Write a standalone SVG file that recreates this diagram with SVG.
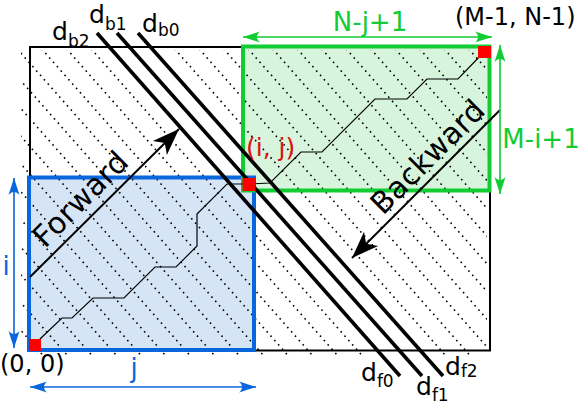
<svg xmlns="http://www.w3.org/2000/svg" width="581" height="404" viewBox="0 0 581 404">
<style>
text{font-family:"DejaVu Sans","Liberation Sans",sans-serif;}
.lbl{font-size:24px;fill:#000;}
.big{font-size:30px;fill:#000;}
.dl{font-size:25px;fill:#000;}
.sub{font-size:17px;}
.blue{fill:#0a66dd;font-size:26px;}
.green{fill:#11cc33;font-size:26px;}
.red{fill:#e01010;font-size:25px;}
.dots{fill:none;stroke:#000;stroke-width:1.6;stroke-dasharray:1.6 4.2;}
.solid{fill:none;stroke:#000;stroke-width:3.6;}
.stair{fill:none;stroke:#000;stroke-width:1.2;}
.arr{fill:none;stroke:#000;stroke-width:2;marker-end:url(#bigArrow);}
.dimb{fill:none;stroke:#0a66dd;stroke-width:1.6;marker-start:url(#blueStart);marker-end:url(#blueEnd);}
.dimg{fill:none;stroke:#11cc33;stroke-width:1.6;marker-start:url(#greenStart);marker-end:url(#greenEnd);}
.sq{fill:#ff0000;}
</style>
<defs>
<marker id="bigArrow" markerUnits="userSpaceOnUse" viewBox="-29 -12 31 24" refX="0" refY="0" markerWidth="31" markerHeight="24" orient="auto">
<path d="M0,0 L-27,-10 L-20,0 L-27,10 Z" fill="#000"/>
</marker>
<marker id="blueEnd" markerUnits="userSpaceOnUse" viewBox="-18 -6 19 12" refX="0" refY="0" markerWidth="19" markerHeight="12" orient="auto">
<path d="M0,0 L-17,-5.5 C-13,-2 -13,2 -17,5.5 Z" fill="#0a66dd"/>
</marker>
<marker id="blueStart" markerUnits="userSpaceOnUse" viewBox="-1 -6 19 12" refX="0" refY="0" markerWidth="19" markerHeight="12" orient="auto">
<path d="M0,0 L17,-5.5 C13,-2 13,2 17,5.5 Z" fill="#0a66dd"/>
</marker>
<marker id="greenEnd" markerUnits="userSpaceOnUse" viewBox="-18 -6 19 12" refX="0" refY="0" markerWidth="19" markerHeight="12" orient="auto">
<path d="M0,0 L-17,-5.5 C-13,-2 -13,2 -17,5.5 Z" fill="#11cc33"/>
</marker>
<marker id="greenStart" markerUnits="userSpaceOnUse" viewBox="-1 -6 19 12" refX="0" refY="0" markerWidth="19" markerHeight="12" orient="auto">
<path d="M0,0 L17,-5.5 C13,-2 13,2 17,5.5 Z" fill="#11cc33"/>
</marker>
<clipPath id="gridClip">
<rect x="21" y="50" width="466" height="307"/>
</clipPath>
</defs>

<g id="background">
<rect x="30" y="47" width="460" height="303.5" fill="#fff"/>
<rect x="29" y="177.5" width="225" height="172.5" fill="#d6e5f6"/>
<rect x="243" y="46.5" width="246.5" height="144" fill="#d7f5dc"/>
</g>

<g id="grid" clip-path="url(#gridClip)">
<path class="dots" d="
M-239.5,35.7 L90.5,409.2
M-215,35.7 L115,409.2
M-190.5,35.7 L139.5,409.2
M-166,35.7 L164,409.2
M-141.5,35.7 L188.5,409.2
M-117,35.7 L213,409.2
M-92.5,35.7 L237.5,409.2
M-68,35.7 L262,409.2
M-43.5,35.7 L286.5,409.2
M-19,35.7 L311,409.2
M5.5,35.7 L335.5,409.2
M30,35.7 L360,409.2
M55,35.7 L385,409.2
M79.5,35.7 L409.5,409.2
M163,35.7 L493,409.2
M187.5,35.7 L517.5,409.2
M212,35.7 L542,409.2
M236.5,35.7 L566.5,409.2
M261,35.7 L591,409.2
M285.5,35.7 L615.5,409.2
M310,35.7 L640,409.2
M334.5,35.7 L664.5,409.2
M359,35.7 L689,409.2
M383.5,35.7 L713.5,409.2
M408,35.7 L738,409.2
M432.5,35.7 L762.5,409.2
M457,35.7 L787,409.2"/>
</g>

<g id="matrix">
<rect x="30" y="47" width="460" height="303.5" fill="none" stroke="#000" stroke-width="2"/>
</g>
<g id="forward-region">
<rect x="29" y="177.5" width="225" height="172.5" fill="none" stroke="#0a66dd" stroke-width="4"/>
</g>
<g id="backward-region">
<rect x="243" y="46.5" width="246.5" height="144" fill="none" stroke="#11cc33" stroke-width="4"/>
</g>

<g id="path">
<path class="stair" d="M35,345 L41,338 L62,318 L72,318 L93,298 L124,298 L155,267 L176,267 L197,246 L197,214 L227,184 L249,184 L270,183 L301,152 L322,152 L375,99 L407,99 L427,79 L458,79 L484,52"/>
</g>

<g id="connectors">
<path class="solid" d="M97,33 L400,376"/>
<path class="solid" d="M117,33 L422,376"/>
<path class="solid" d="M138,33 L443,376"/>
<path class="arr" d="M30,277 L179,129"/>
<path class="arr" d="M500,110 L352,258"/>
<path class="dimb" d="M14,178 L14,348"/>
<path class="dimb" d="M30,387 L256,387"/>
<path class="dimg" d="M243,37 L492,37"/>
<path class="dimg" d="M500,45 L500,194"/>
</g>

<g id="cells">
<rect class="sq" x="29" y="339" width="12" height="12"/>
<rect class="sq" x="242.5" y="178" width="13" height="13"/>
<rect class="sq" x="478" y="46" width="13" height="12"/>
</g>

<g id="labels">
<text class="dl" x="52" y="40">d<tspan class="sub" dy="7">b2</tspan></text>
<text class="dl" x="89" y="23">d<tspan class="sub" dy="7">b1</tspan></text>
<text class="dl" x="142" y="32">d<tspan class="sub" dy="4">b0</tspan></text>
<text class="dl" x="361" y="381">d<tspan class="sub" dy="6">f0</tspan></text>
<text class="dl" x="416" y="395">d<tspan class="sub" dy="6">f1</tspan></text>
<text class="dl" x="445" y="375">d<tspan class="sub" dy="2">f2</tspan></text>
<text class="lbl" x="455" y="25">(M-1, N-1)</text>
<text class="lbl" x="0" y="372">(0, 0)</text>
<text class="red" x="246" y="156">(i, j)</text>
<text class="green" x="370" y="31" text-anchor="middle">N-j+1</text>
<text class="green" x="541" y="148" text-anchor="middle">M-i+1</text>
<text class="blue" x="6" y="275" text-anchor="middle">i</text>
<text class="blue" x="134" y="377" text-anchor="middle">j</text>
<text class="big" transform="translate(45,249) rotate(-45)">Forward</text>
<text class="big" transform="translate(383,216) rotate(-45)">Backward</text>
</g>
</svg>
